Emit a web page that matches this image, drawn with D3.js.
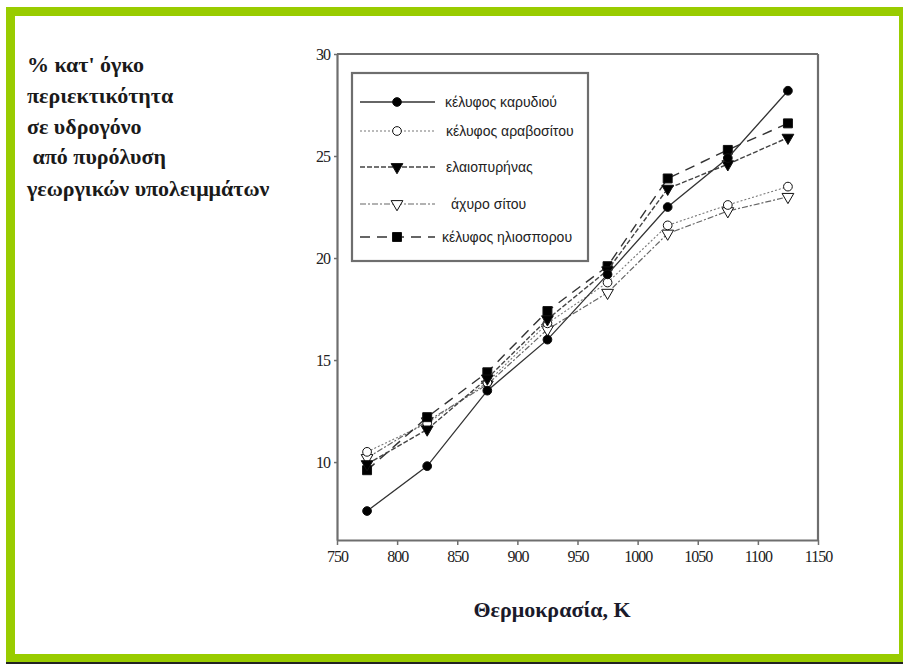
<!DOCTYPE html>
<html>
<head>
<meta charset="utf-8">
<script src="https://cdn.jsdelivr.net/npm/d3@7"></script>
<style>
  body { margin: 0; background: #fff; }
  svg { display: block; }
</style>
</head>
<body>
<div id="chart"></div>
<script>
// data
var temps = [775, 825, 875, 925, 975, 1025, 1075, 1125];
var karydi   = [7.6, 9.8, 13.5, 16.0, 19.2, 22.5, 24.9, 28.2];
var aravos   = [10.5, 11.9, 13.9, 16.8, 18.8, 21.6, 22.6, 23.5];
var elaio    = [9.9, 11.6, 14.1, 17.0, 19.4, 23.4, 24.6, 25.9];
var axyro    = [10.2, 12.0, 13.8, 16.5, 18.3, 21.2, 22.3, 23.0];
var ilios    = [9.6, 12.2, 14.4, 17.4, 19.6, 23.9, 25.3, 26.6];
var seriesNames = ["κέλυφος καρυδιού", "κέλυφος αραβοσίτου", "ελαιοπυρήνας", "άχυρο σίτου", "κέλυφος ηλιοσπορου"];
var xTicks = [750, 800, 850, 900, 950, 1000, 1050, 1100, 1150];
var yTicks = [10, 15, 20, 25, 30];
var titleLines = ["% κατ' όγκο", "περιεκτικότητα", "σε υδρογόνο", " από πυρόλυση", "γεωργικών υπολειμμάτων"];

var W = 903, H = 664;
var svg = d3.select("#chart").append("svg")
    .attr("width", W)
    .attr("height", H);

// green frame
var green = "#99cc00";
svg.append("rect").attr("x", 6).attr("y", 7).attr("width", W - 6).attr("height", 9).attr("fill", green);
svg.append("rect").attr("x", 6).attr("y", 7).attr("width", 9).attr("height", 656).attr("fill", green);
svg.append("rect").attr("x", 899).attr("y", 7).attr("width", 4).attr("height", 656).attr("fill", green);
svg.append("rect").attr("x", 6).attr("y", 654).attr("width", W - 6).attr("height", 8).attr("fill", green);
svg.append("rect").attr("x", 6).attr("y", 662).attr("width", W - 6).attr("height", 2).attr("fill", "#222");

// title block on the left
svg.append("g").selectAll("text")
  .data(titleLines)
  .enter().append("text")
    .attr("x", 27)
    .attr("y", function(d, i) { return [72, 103, 134, 164, 196][i]; })
    .attr("xml:space", "preserve")
    .style("font-family", "'Liberation Serif', 'DejaVu Serif', serif")
    .style("font-weight", "bold")
    .style("font-size", "22px")
    .attr("fill", "#1a1a1a")
    .text(function(d) { return d; });

// scales
var x = d3.scaleLinear().domain([750, 1150]).range([337, 818]);
var y = d3.scaleLinear().domain([6.18, 30]).range([540, 54]);

var axisColor = "#6e6e6e";

// x axis
var gx = svg.append("g")
    .attr("transform", "translate(0,540)")
    .call(d3.axisBottom(x).tickValues(xTicks).tickSize(5).tickSizeOuter(0).tickPadding(6).tickFormat(d3.format("d")));
// y axis
var gy = svg.append("g")
    .attr("transform", "translate(337,0)")
    .call(d3.axisLeft(y).tickValues(yTicks).tickSize(3).tickSizeOuter(0).tickPadding(4));

[gx, gy].forEach(function(g) {
  g.attr("font-family", null);
  g.select(".domain").attr("stroke", axisColor).attr("stroke-width", 2.2);
  g.selectAll(".tick line").attr("stroke", axisColor).attr("stroke-width", 1.5);
  g.selectAll(".tick text")
    .attr("fill", "#222")
    .style("font-family", "'Liberation Serif', 'DejaVu Serif', serif")
    .style("font-size", "16px")
    .style("letter-spacing", "-1px");
});

// top and right frame lines
svg.append("line").attr("x1", 337).attr("x2", 818).attr("y1", y(30)).attr("y2", y(30))
  .attr("stroke", axisColor).attr("stroke-width", 2.2);
svg.append("line").attr("x1", 818).attr("x2", 818).attr("y1", y(30)).attr("y2", 540)
  .attr("stroke", axisColor).attr("stroke-width", 2.2);

// axis title
svg.append("text")
  .attr("x", 552)
  .attr("y", 617)
  .attr("text-anchor", "middle")
  .style("font-family", "'Liberation Serif', 'DejaVu Serif', serif")
  .style("font-weight", "bold")
  .style("font-size", "22px")
  .attr("fill", "#1a1a2a")
  .text("Θερμοκρασία, K");

// series styles
var allSeries = [karydi, aravos, elaio, axyro, ilios];
var dashes = [null, "2,2", "5,2", "6,2,2,2", "10,7"];
var lineColors = ["#333", "#777", "#444", "#666", "#333"];
var lineWidths = [1.3, 1.1, 1.4, 1.2, 1.4];
var markers = [
  {type: d3.symbolCircle, size: 60, fill: "#000"},
  {type: d3.symbolCircle, size: 60, fill: "#fff"},
  {type: "tri", size: 60, fill: "#000"},
  {type: "tri", size: 60, fill: "#fff"},
  {type: d3.symbolSquare, size: 80, fill: "#000"}
];

function markerPath(m) {
  if (m.type === "tri") {
    return d3.symbol().type(d3.symbolTriangle).size(m.size)();
  }
  return d3.symbol().type(m.type).size(m.size)();
}
function markerTransform(m, px, py) {
  return "translate(" + px + "," + py + ")" + (m.type === "tri" ? " rotate(180)" : "");
}

var line = d3.line()
  .x(function(d, i) { return x(temps[i]); })
  .y(function(d) { return y(d); });

// draw back to front
var order = [3, 1, 4, 2, 0];
order.forEach(function(s) {
  var g = svg.append("g");
  g.append("path")
    .datum(allSeries[s])
    .attr("d", line)
    .attr("fill", "none")
    .attr("stroke", lineColors[s])
    .attr("stroke-width", lineWidths[s])
    .attr("stroke-dasharray", dashes[s]);
  g.selectAll("path.pt")
    .data(allSeries[s])
    .enter().append("path")
      .attr("class", "pt")
      .attr("d", markerPath(markers[s]))
      .attr("transform", function(d, i) { return markerTransform(markers[s], x(temps[i]), y(d)); })
      .attr("fill", markers[s].fill)
      .attr("stroke", "#111")
      .attr("stroke-width", 1);
});

// legend
var legend = svg.append("g");
legend.append("rect")
  .attr("x", 352).attr("y", 73)
  .attr("width", 236).attr("height", 188)
  .attr("fill", "#fff")
  .attr("stroke", axisColor)
  .attr("stroke-width", 2.2);

var legRows = [102, 131, 167, 204, 237];
var legTextX = [445, 446, 446, 451, 442];
seriesNames.forEach(function(name, s) {
  var ly = legRows[s];
  legend.append("line")
    .attr("x1", 360).attr("x2", 435)
    .attr("y1", ly).attr("y2", ly)
    .attr("stroke", lineColors[s])
    .attr("stroke-width", lineWidths[s])
    .attr("stroke-dasharray", dashes[s]);
  legend.append("path")
    .attr("d", markerPath(markers[s]))
    .attr("transform", markerTransform(markers[s], 397, ly))
    .attr("fill", markers[s].fill)
    .attr("stroke", "#111")
    .attr("stroke-width", 1);
  legend.append("text")
    .attr("x", legTextX[s])
    .attr("y", ly + 5)
    .style("font-family", "'Liberation Sans', Arial, sans-serif")
    .style("font-size", "14px")
    .attr("fill", "#222")
    .text(name);
});
</script>
</body>
</html>
